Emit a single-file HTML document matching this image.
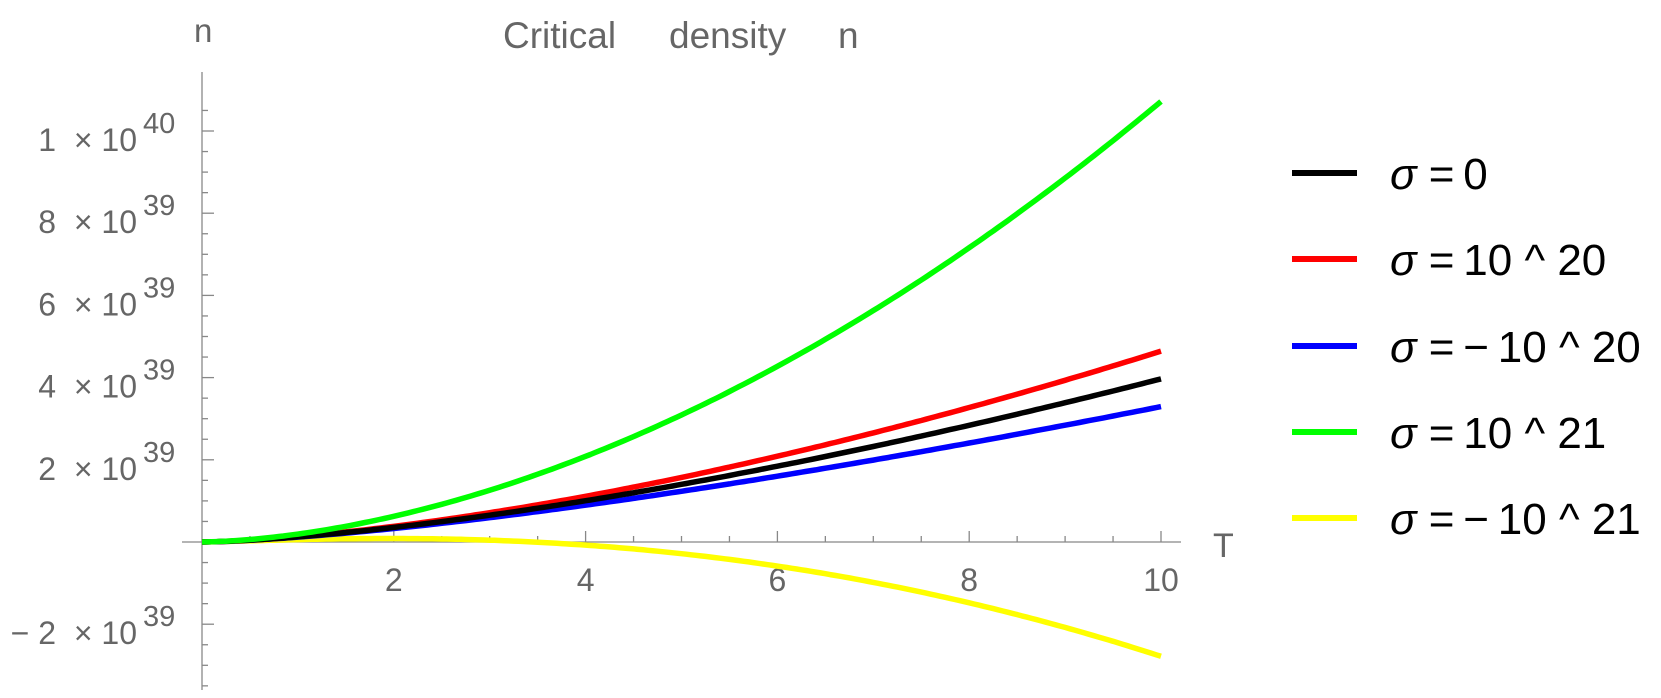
<!DOCTYPE html>
<html><head><meta charset="utf-8"><style>
html,body{margin:0;padding:0;background:#fff;}
svg{display:block;font-family:"Liberation Sans",sans-serif;}
</style></head><body>
<svg id="s" width="1661" height="698" viewBox="0 0 1661 698" xmlns="http://www.w3.org/2000/svg">
<g fill="#666">
<text x="194" y="42" font-size="33">n</text>
<text x="503" y="48" font-size="37">Critical</text>
<text x="669" y="48" font-size="37">density</text>
<text x="838" y="48" font-size="37">n</text>
<text x="1213" y="557" font-size="34">T</text>
</g>
<g id="ax" stroke="#888" stroke-width="1.3"></g>
<g id="lab" fill="#666" font-size="32"></g>
<g id="cur" fill="none" stroke-width="5.5" stroke-linejoin="round"></g>
<g font-size="44" fill="#000">
<line x1="1292" y1="173" x2="1357" y2="173" stroke="#000" stroke-width="6"/>
<line x1="1292" y1="259" x2="1357" y2="259" stroke="#f00" stroke-width="6"/>
<line x1="1292" y1="346" x2="1357" y2="346" stroke="#00f" stroke-width="6"/>
<line x1="1292" y1="432" x2="1357" y2="432" stroke="#0f0" stroke-width="6"/>
<line x1="1292" y1="518" x2="1357" y2="518" stroke="#ff0" stroke-width="6"/>
<text x="1390" y="189"><tspan font-style="italic">σ</tspan> =&#8201;0</text>
<text x="1390" y="275"><tspan font-style="italic">σ</tspan> =&#8201;10 ^ 20</text>
<text x="1390" y="362"><tspan font-style="italic">σ</tspan> =&#8201;−&#8201;10 ^ 20</text>
<text x="1390" y="448"><tspan font-style="italic">σ</tspan> =&#8201;10 ^ 21</text>
<text x="1390" y="534"><tspan font-style="italic">σ</tspan> =&#8201;−&#8201;10 ^ 21</text>
</g>
</svg>
<script>
var NS="http://www.w3.org/2000/svg";
function el(p,t,a,txt){var e=document.createElementNS(NS,t);for(var k in a)e.setAttribute(k,a[k]);if(txt!=null)e.textContent=txt;document.getElementById(p).appendChild(e);return e;}
function X(T){return 202+95.9*T;}
function Y(n){return 542-41.1*n;}
el("ax","line",{x1:182,y1:542,x2:1181,y2:542});
el("ax","line",{x1:202,y1:72,x2:202,y2:690});
for(var i=1;i<=20;i++){var x=X(i*0.5);var maj=(i%4==0);el("ax","line",{x1:x,y1:542,x2:x,y2:maj?531:536});}
for(var j=-7;j<=21;j++){var n=j*0.5;var y=Y(n);if(y<74||y>690||j==0)continue;var maj=(j%4==0);el("ax","line",{x1:202,y1:y,x2:maj?214:208,y2:y});}
[2,4,6,8,10].forEach(function(t){el("lab","text",{x:X(t),y:591,"text-anchor":"middle"},String(t));});
var L=[[10,"1\u00a0\u00a0×\u00a010","40"],[8,"8\u00a0\u00a0×\u00a010","39"],[6,"6\u00a0\u00a0×\u00a010","39"],[4,"4\u00a0\u00a0×\u00a010","39"],[2,"2\u00a0\u00a0×\u00a010","39"],[-2,"−\u00a02\u00a0\u00a0×\u00a010","39"]];
L.forEach(function(l){var y=Y(l[0]);el("lab","text",{x:137,y:y+20,"text-anchor":"end"},l[1]);el("lab","text",{x:143,y:y+2,"font-size":29},l[2]);});
var cols=[["#ff0",-1],["#00f",-0.1],["#f00",0.1],["#000",0],["#0f0",1]];
cols.forEach(function(c){var d="";for(var k=0;k<=200;k++){var T=k*0.05;var n=0.1255*Math.pow(T,1.5)+c[1]*0.0675*T*T;d+=(k?"L":"M")+X(T).toFixed(1)+" "+Y(n).toFixed(1);}el("cur","path",{d:d,stroke:c[0]});});
</script>
</body></html>
